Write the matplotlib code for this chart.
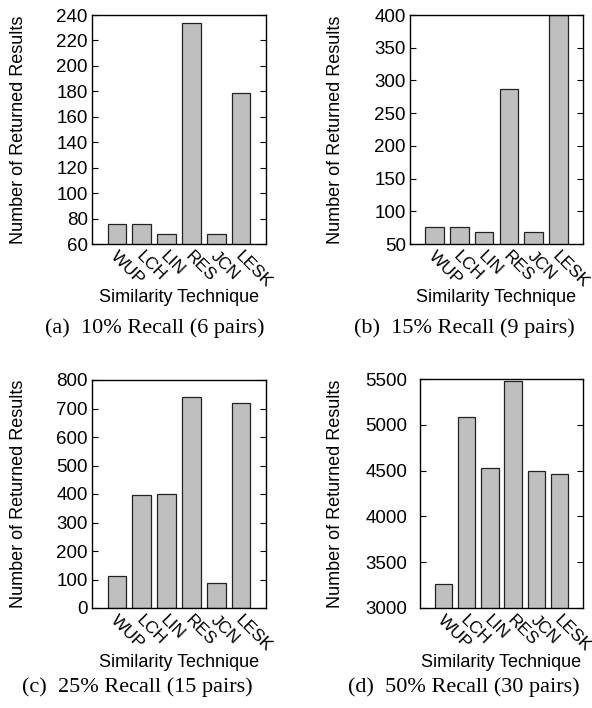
import numpy as np
import matplotlib
matplotlib.use("Agg")
import matplotlib.pyplot as plt
from matplotlib.transforms import ScaledTranslation

techniques = ["WUP", "LCH", "LIN", "RES", "JCN", "LESK"]

recall_10 = [76, 76, 68, 234, 68, 179]
recall_15 = [76, 76, 68, 287, 68, 400]
recall_25 = [113, 398, 400, 740, 89, 719]
recall_50 = [3262, 5081, 4528, 5482, 4499, 4459]

captions = ["(a)  10% Recall (6 pairs)", "(b)  15% Recall (9 pairs)",
            "(c)  25% Recall (15 pairs)", "(d)  50% Recall (30 pairs)"]
ylims = [(60, 240), (50, 400), (0, 800), (3000, 5500)]
ysteps = [20, 50, 100, 500]

plt.rcParams['font.family'] = ['Liberation Sans', 'DejaVu Sans']

fig = plt.figure(figsize=(5.92, 7.08), dpi=100)
W, H = 592, 708
# axes boxes in pixels: left, top, right, bottom
boxes = [(92, 15, 266, 244), (410, 15, 583, 244),
         (92, 380, 266, 608), (420, 379, 583, 608)]
cap_pos = [(155, 328), (464, 328), (137, 687), (464, 687)]
ylab_x = [27, 344, 27, 344]
xlab_y = [297, 297, 662, 662]
ypads = [3, 3, 3, 9]

data = [recall_10, recall_15, recall_25, recall_50]
x = np.arange(1, len(techniques) + 1)
shift = ScaledTranslation(2 / 100, -3 / 100, fig.dpi_scale_trans)

for i, vals in enumerate(data):
    l, t, r, b = boxes[i]
    ax = fig.add_axes([l / W, 1 - b / H, (r - l) / W, (b - t) / H])
    ax.bar(x, vals, width=0.75, color='#bfbfbf', edgecolor='#222222', linewidth=0.9)
    ax.set_xlim(0, 7)
    lo, hi = ylims[i]
    ax.set_ylim(lo, hi)
    ax.set_yticks(np.arange(lo, hi + 1, ysteps[i]))
    ax.tick_params(axis='y', direction='in', right=True, length=4, labelsize=13.5, pad=ypads[i])
    ax.tick_params(axis='x', length=0, pad=1)
    ax.set_xticks(x)
    ax.set_xticklabels(techniques, rotation=-45, ha='left', va='top',
                       rotation_mode='anchor', fontsize=12.5)
    for lab in ax.get_xticklabels():
        lab.set_transform(lab.get_transform() + shift)
    for sp in ax.spines.values():
        sp.set_linewidth(1.0)
    ax.set_ylabel("Number of Returned Results", fontsize=13)
    ax.yaxis.set_label_coords((ylab_x[i] - l) / (r - l), 0.5)
    ax.set_xlabel("Similarity Technique", fontsize=13, labelpad=0)
    ax.xaxis.set_label_coords(0.5, -(xlab_y[i] - 8 - b) / (b - t))
    cx, cy = cap_pos[i]
    fig.text(cx / W, 1 - cy / H, captions[i], ha='center', va='center',
             family='Liberation Serif', fontsize=16)

fig.savefig("out.png", dpi=100)
